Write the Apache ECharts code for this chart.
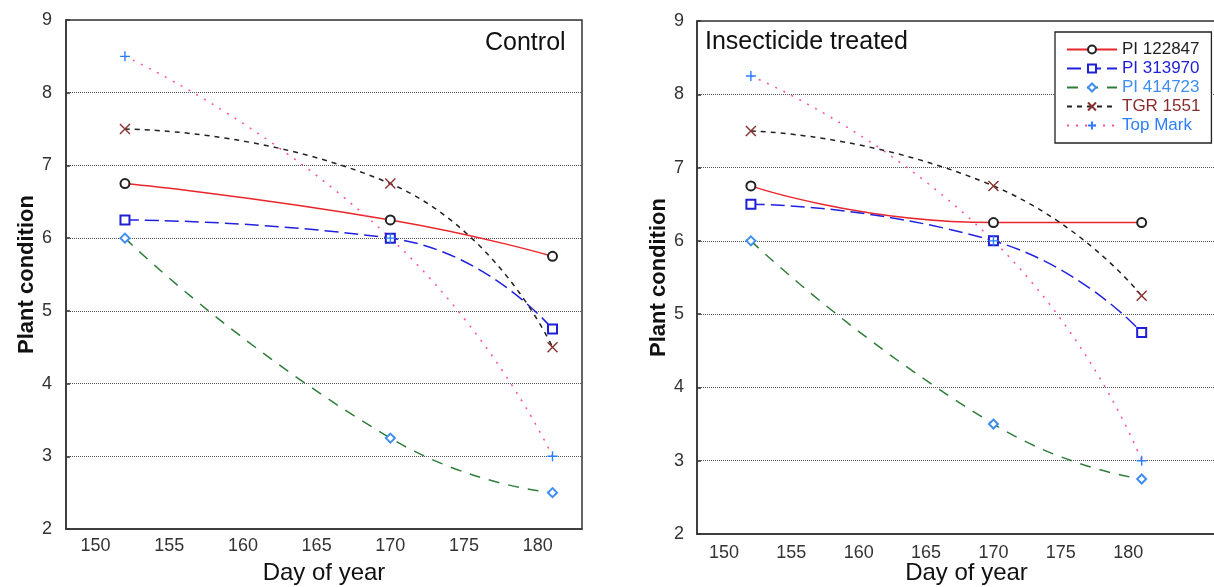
<!DOCTYPE html>
<html>
<head>
<meta charset="utf-8">
<script src="https://cdn.jsdelivr.net/npm/echarts@6/dist/echarts.min.js"></script>
<style>
    html, body { margin: 0; padding: 0; background: #fff; }
    #main-chart { width: 1214px; height: 587px; }
</style>
</head>
<body>
<div id="main-chart"></div>
<script>
const days = [152, 170, 181];
const seriesNames = ['PI 122847', 'PI 313970', 'PI 414723', 'TGR 1551', 'Top Mark'];

// Control panel
const controlPI122847 = [6.75, 6.25, 5.75];
const controlPI313970 = [6.25, 6.0, 4.75];
const controlPI414723 = [6.0, 3.25, 2.5];
const controlTGR1551 = [7.5, 6.75, 4.5];
const controlTopMark = [8.5, 6.0, 3.0];

// Insecticide treated panel
const treatedPI122847 = [6.75, 6.25, 6.25];
const treatedPI313970 = [6.5, 6.0, 4.75];
const treatedPI414723 = [6.0, 3.5, 2.75];
const treatedTGR1551 = [7.5, 6.75, 5.25];
const treatedTopMark = [8.25, 6.0, 3.0];

const fontFamily = '"Liberation Sans", Arial, sans-serif';
const crossPath = 'path://M0,0L10,10M10,0L0,10';
const plusPath = 'path://M5,0L5,10M0,5L10,5';

const styles = {
    'PI 122847': { line: '#e8262c', dash: 'solid', symbol: 'emptyCircle', mark: '#222', size: 9, text: '#222' },
    'PI 313970': { line: '#2020e0', dash: [14, 6], symbol: 'emptyRect', mark: '#1e1ed6', size: 9, text: '#1e1ed6' },
    'PI 414723': { line: '#2f7d3a', dash: [11, 9], symbol: 'emptyDiamond', mark: '#3f8ef0', size: 9, text: '#3f8ef0' },
    'TGR 1551': { line: '#222', dash: [5, 5], symbol: crossPath, mark: '#8b3030', size: 10, text: '#8b2a2a' },
    'Top Mark': { line: '#ff4da6', dash: [2, 7], symbol: plusPath, mark: '#2b7fff', size: 10, text: '#2b7fff' }
};

function makeSeries(name, values, idx) {
    const s = styles[name];
    return {
        name: name,
        type: 'line',
        xAxisIndex: idx,
        yAxisIndex: idx,
        data: days.map((d, i) => [d, values[i]]),
        smooth: 0.55,
        symbol: s.symbol,
        symbolSize: s.size,
        showSymbol: true,
        lineStyle: { color: s.line, width: 1.5, type: s.dash },
        itemStyle: { color: s.mark, borderColor: s.mark, borderWidth: 1.4 },
        emphasis: { disabled: true },
        z: 3
    };
}

function makeXAxis(idx, gap, labelMargin) {
    return {
        type: 'value', gridIndex: idx, min: 148, max: idx === 0 ? 183 : 188, interval: 1,
        name: 'Day of year', nameLocation: 'middle', nameGap: gap, nameMoveOverlap: false,
        nameTextStyle: { fontSize: 24, color: '#111', fontFamily: fontFamily },
        axisLine: { show: true, onZero: false, lineStyle: { color: '#333', width: 1.5 } },
        axisTick: { show: false },
        axisLabel: {
            fontSize: 18, color: '#333', fontFamily: fontFamily, margin: labelMargin,
            showMinLabel: true, showMaxLabel: true, hideOverlap: false,
            formatter: v => (v % 5 === 0 && v >= 150 && v <= 180 ? String(v) : '')
        },
        splitLine: { show: false }
    };
}

function makeYAxis(idx, gap, labelMargin) {
    return {
        type: 'value', gridIndex: idx, min: 2, max: 9, interval: 1,
        name: 'Plant condition', nameLocation: 'middle', nameGap: gap, nameMoveOverlap: false,
        nameTextStyle: { fontSize: 22, fontWeight: 'bold', color: '#111', fontFamily: fontFamily },
        axisLine: { show: true, lineStyle: { color: '#333', width: 1.5 } },
        axisTick: { show: true, inside: true, length: 4, lineStyle: { color: '#333', width: 1.5 } },
        axisLabel: { fontSize: 18, color: '#333', fontFamily: fontFamily, margin: labelMargin },
        splitLine: { show: true, lineStyle: { color: '#555', width: 1, type: [1, 1] } }
    };
}

document.addEventListener('DOMContentLoaded', () => {
    const mainChart = echarts.init(document.getElementById('main-chart'));

    const series = [
        makeSeries('PI 122847', controlPI122847, 0),
        makeSeries('PI 313970', controlPI313970, 0),
        makeSeries('PI 414723', controlPI414723, 0),
        makeSeries('TGR 1551', controlTGR1551, 0),
        makeSeries('Top Mark', controlTopMark, 0),
        makeSeries('PI 122847', treatedPI122847, 1),
        makeSeries('PI 313970', treatedPI313970, 1),
        makeSeries('PI 414723', treatedPI414723, 1),
        makeSeries('TGR 1551', treatedTGR1551, 1),
        makeSeries('Top Mark', treatedTopMark, 1)
    ];

    const option = {
        animation: false,
        backgroundColor: '#fff',
        title: [
            { text: 'Control', left: 485, top: 31, padding: 0,
              textStyle: { fontSize: 25, fontWeight: 'normal', color: '#111', fontFamily: fontFamily } },
            { text: 'Insecticide treated', left: 705, top: 30, padding: 0,
              textStyle: { fontSize: 25, fontWeight: 'normal', color: '#111', fontFamily: fontFamily } }
        ],
        legend: {
            orient: 'vertical', left: 1055, top: 32,
            padding: [9, 11, 9, 11], itemGap: 2, itemWidth: 50, itemHeight: 10,
            backgroundColor: '#fff', borderColor: '#222', borderWidth: 1.3, borderRadius: 0,
            textStyle: { fontSize: 17, fontFamily: fontFamily },
            data: seriesNames.map(n => ({ name: n, textStyle: { color: styles[n].text } })),
            selectedMode: false
        },
        grid: [
            { left: 66, top: 20, width: 516, height: 509, show: true, borderColor: '#333', borderWidth: 1.5,
              backgroundColor: 'transparent', outerBoundsMode: 'none' },
            { left: 697, top: 21, width: 539, height: 513, show: true, borderColor: '#333', borderWidth: 1.5,
              backgroundColor: 'transparent', outerBoundsMode: 'none' }
        ],
        xAxis: [makeXAxis(0, 32, 8), makeXAxis(1, 27, 10)],
        yAxis: [makeYAxis(0, 28, 14), makeYAxis(1, 27, 13)],
        series: series
    };
    mainChart.setOption(option);
});
</script>
</body>
</html>
